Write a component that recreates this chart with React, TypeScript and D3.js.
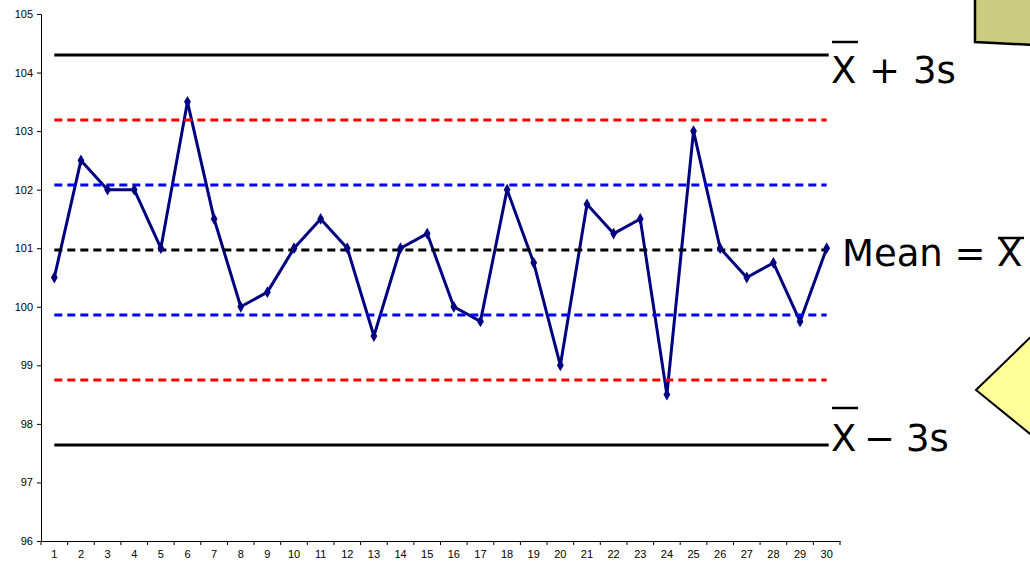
import React, { useEffect, useRef } from "react";
import * as d3 from "d3";

const categories: number[] = d3.range(1, 31);
const values: number[] = [
  100.5, 102.5, 102, 102, 101, 103.5, 101.5, 100, 100.25, 101,
  101.5, 101, 99.5, 101, 101.25, 100, 99.75, 102, 100.75, 99,
  101.75, 101.25, 101.5, 98.5, 103, 101, 100.5, 100.75, 99.75, 101,
];
const yTicks: number[] = [96, 97, 98, 99, 100, 101, 102, 103, 104, 105];
const meanValue = 100.97;
const sigma = 1.11;
const limits = [
  { k: 3, color: "#000000", dash: null as string | null },
  { k: 2, color: "#ff0000", dash: "8,5" },
  { k: 1, color: "#0000ff", dash: "8,5" },
  { k: 0, color: "#000000", dash: "8,5" },
  { k: -1, color: "#0000ff", dash: "8,5" },
  { k: -2, color: "#ff0000", dash: "8,5" },
  { k: -3, color: "#000000", dash: null as string | null },
];

export default function App() {
  const ref = useRef<SVGSVGElement | null>(null);

  useEffect(() => {
    const svg = d3.select(ref.current);
    svg.selectAll("*").remove();

    const x = d3.scaleBand<number>().domain(categories).range([41, 840]).paddingInner(0).paddingOuter(0);
    const y = d3.scaleLinear().domain([96, 105]).range([541, 14]);
    const cx = (d: number) => (x(d) as number) + x.bandwidth() / 2;

    // decorative shapes
    svg.append("path")
      .attr("d", "M975,-5 L975,42 L1035,45 L1035,-5")
      .attr("fill", "#cccc80").attr("stroke", "#000").attr("stroke-width", 2.5);
    svg.append("path")
      .attr("d", "M1040,328 L976,390 L1040,442 Z")
      .attr("fill", "#ffff99").attr("stroke", "#000").attr("stroke-width", 2);

    // axes
    const tickFont = "Liberation Sans, Arial, sans-serif";
    const yAxis = d3.axisLeft(y).tickValues(yTicks).tickSize(4).tickPadding(4).tickFormat(d3.format("d"));
    const gy = svg.append("g").attr("transform", "translate(41,0)").call(yAxis);
    gy.select(".domain").attr("stroke", "#000").attr("stroke-width", 1);
    gy.selectAll(".tick line").attr("stroke", "#000");
    gy.selectAll(".tick text").attr("font-family", tickFont).attr("font-size", 11).attr("fill", "#000");

    const xAxis = d3.axisBottom(x).tickSize(0).tickPadding(9);
    const gx = svg.append("g").attr("transform", "translate(0,541)").call(xAxis);
    gx.select(".domain").attr("stroke", "#000").attr("stroke-width", 1);
    gx.selectAll(".tick text").attr("font-family", tickFont).attr("font-size", 11).attr("fill", "#000");
    const bounds = categories.map((c) => x(c) as number).concat([840]);
    svg.append("g").selectAll("line").data(bounds).join("line")
      .attr("x1", (d) => d).attr("x2", (d) => d)
      .attr("y1", 541).attr("y2", 545).attr("stroke", "#000");

    // data line
    const line = d3.line<number>().x((_, i) => cx(categories[i])).y((d) => y(d));
    svg.append("path").datum(values).attr("d", line)
      .attr("fill", "none").attr("stroke", "#000080").attr("stroke-width", 3).attr("stroke-linejoin", "round");

    // limit lines
    const x0 = cx(categories[0]);
    const x1 = cx(categories[categories.length - 1]);
    limits.forEach((l) => {
      const yy = y(meanValue + l.k * sigma);
      const ln = svg.append("line")
        .attr("x1", x0).attr("x2", l.dash ? x1 : x1 + 2)
        .attr("y1", yy).attr("y2", yy)
        .attr("stroke", l.color).attr("stroke-width", 3);
      if (l.dash) ln.attr("stroke-dasharray", l.dash);
    });

    // markers
    svg.append("g").selectAll("path").data(values).join("path")
      .attr("d", d3.symbol().type(d3.symbolDiamond).size(40)())
      .attr("transform", (d, i) => `translate(${cx(categories[i])},${y(d)})`)
      .attr("fill", "#000080");

    // labels
    const font = "DejaVu Sans, Verdana, sans-serif";
    const lab = svg.append("g").attr("font-family", font).attr("font-size", 37).attr("fill", "#000");
    // X + 3s
    lab.append("text").attr("x", 831).attr("y", 83).text("X");
    lab.append("line").attr("x1", 832).attr("x2", 858).attr("y1", 42).attr("y2", 42).attr("stroke", "#000").attr("stroke-width", 2.5);
    lab.append("text").attr("x", 869).attr("y", 83).text("+");
    lab.append("text").attr("x", 913).attr("y", 83).text("3s");
    // X - 3s
    lab.append("text").attr("x", 831).attr("y", 451).text("X");
    lab.append("line").attr("x1", 832).attr("x2", 858).attr("y1", 408).attr("y2", 408).attr("stroke", "#000").attr("stroke-width", 2.5);
    lab.append("text").attr("x", 864).attr("y", 451).text("\u2212");
    lab.append("text").attr("x", 906).attr("y", 451).text("3s");
    // Mean = X
    lab.append("text").attr("x", 842).attr("y", 266).text("Mean =");
    lab.append("text").attr("x", 997).attr("y", 266).text("X");
    lab.append("line").attr("x1", 998).attr("x2", 1024).attr("y1", 238).attr("y2", 238).attr("stroke", "#000").attr("stroke-width", 2.5);
  }, []);

  return (
    <svg ref={ref} width={1030} height={562} style={{ position: "absolute", left: 0, top: 0, background: "#fff" }} />
  );
}
